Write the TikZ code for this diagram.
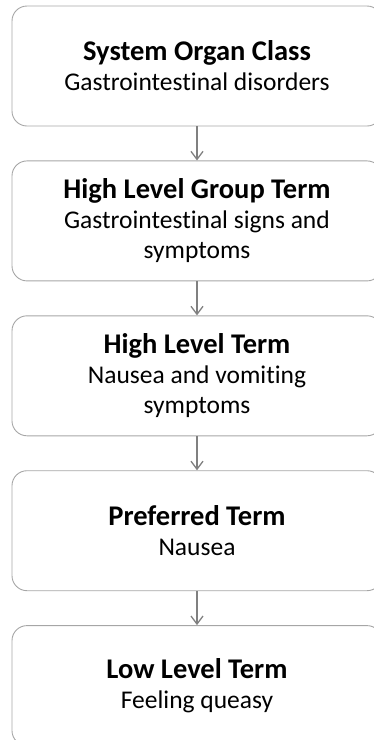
\documentclass[tikz,border=0pt]{standalone}
\usepackage{fontspec}
\setmainfont{Carlito}[Ligatures=NoCommon]
\usetikzlibrary{positioning}
\usetikzlibrary{arrows.meta}
\tikzset{level/.style={
    draw=gray!70,
    line width=0.9pt,
    rounded corners=15pt,
    minimum width=370pt,
    minimum height=120pt,
    align=center,
    font=\fontsize{25.5}{30}\selectfont,
    },
    down/.style={draw=gray, line width=1.3pt, -{Straight Barb[length=8pt,width=12pt]}},
}
\newcommand{\lvl}[2]{{\fontsize{28.5}{30}\selectfont\bfseries #1}\\#2}
\begin{document}
\begin{tikzpicture}[x=1pt,y=1pt,node distance=34pt]
\useasboundingbox (0,0) rectangle (374,-740);
\node[level] (soc) at (197,-66) {\lvl{System Organ Class}{Gastrointestinal disorders}}; % SOC
\node[level, below=of soc] (hlgt) {\lvl{High Level Group Term}{Gastrointestinal signs and\\symptoms}}; % HLGT
\node[level, below=of hlgt] (hlt) {\lvl{High Level Term}{Nausea and vomiting\\symptoms}}; % HLT
\node[level, below=of hlt] (pref) {\lvl{Preferred Term}{Nausea}}; % PT
\node[level, below=of pref] (llt) {\lvl{Low Level Term}{Feeling queasy}}; % LLT
\draw[down] (soc) -- (hlgt);
\draw[down] (hlgt) -- (hlt);
\draw[down] (hlt) -- (pref);
\draw[down] (pref) -- (llt);
\end{tikzpicture}
\end{document}
